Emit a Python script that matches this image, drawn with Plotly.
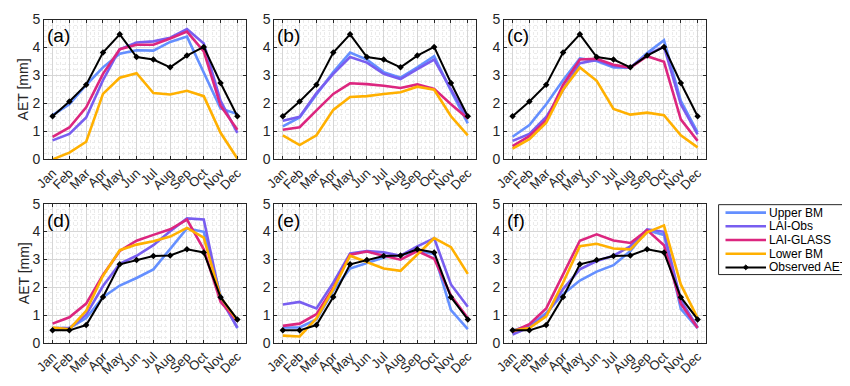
import plotly.graph_objects as go

# the page body has an 8px margin, so the figure is drawn 8px smaller and
# all pixel positions below are given in window pixels and shifted by OFF
OFF = 8
W, H = 850 - OFF, 386 - OFF

months = ["Jan", "Feb", "Mar", "Apr", "May", "Jun", "Jul", "Aug", "Sep", "Oct", "Nov", "Dec"]
month_num = list(range(1, 13))

series_names = ["Upper BM", "LAI-Obs", "LAI-GLASS", "Lower BM", "Observed AET"]
colors = ["#648FFF", "#785EF0", "#DC267F", "#FFB000", "#000000"]

# observed AET (same station for top row, same for bottom row)
obs_top = [1.54, 2.07, 2.67, 3.82, 4.47, 3.66, 3.57, 3.29, 3.71, 4.02, 2.73, 1.54]
obs_bot = [0.45, 0.45, 0.64, 1.65, 2.82, 2.98, 3.12, 3.14, 3.36, 3.25, 1.64, 0.84]

# panel (a)
a_upper = [1.58, 1.97, 2.66, 3.29, 3.78, 3.90, 3.89, 4.20, 4.39, 3.10, 1.82, 1.62]
a_obs = [0.68, 0.91, 1.50, 2.83, 3.94, 4.18, 4.22, 4.35, 4.66, 4.14, 2.09, 0.95]
a_glass = [0.80, 1.14, 1.86, 3.06, 3.94, 4.10, 4.10, 4.32, 4.57, 3.86, 1.92, 1.06]
a_lower = [0.00, 0.24, 0.63, 2.34, 2.92, 3.08, 2.37, 2.32, 2.45, 2.26, 0.95, 0.03]

# panel (b)
b_upper = [1.18, 1.50, 2.32, 3.12, 3.82, 3.57, 3.12, 2.92, 3.29, 3.69, 2.45, 1.29]
b_obs = [1.38, 1.52, 2.37, 3.06, 3.66, 3.46, 3.06, 2.87, 3.23, 3.57, 2.50, 1.46]
b_glass = [1.06, 1.15, 1.75, 2.34, 2.72, 2.69, 2.63, 2.55, 2.68, 2.52, 1.97, 1.46]
b_lower = [0.86, 0.51, 0.86, 1.77, 2.23, 2.26, 2.34, 2.40, 2.60, 2.49, 1.54, 0.86]

# panel (c)
c_upper = [0.81, 1.23, 1.97, 2.83, 3.61, 3.52, 3.29, 3.28, 3.80, 4.26, 2.09, 0.97]
c_obs = [0.66, 0.91, 1.52, 2.49, 3.44, 3.55, 3.34, 3.28, 3.74, 4.03, 1.97, 0.89]
c_glass = [0.47, 0.83, 1.40, 2.66, 3.57, 3.60, 3.38, 3.28, 3.69, 3.49, 1.43, 0.66]
c_lower = [0.38, 0.72, 1.31, 2.49, 3.29, 2.81, 1.80, 1.60, 1.67, 1.58, 0.86, 0.43]

# panel (d)
d_upper = [0.49, 0.53, 0.89, 1.64, 2.06, 2.33, 2.64, 3.36, 4.11, 3.99, 1.70, 0.53]
d_obs = [0.53, 0.53, 1.01, 2.04, 2.84, 3.13, 3.51, 4.01, 4.47, 4.43, 1.58, 0.55]
d_glass = [0.69, 0.92, 1.41, 2.44, 3.30, 3.67, 3.88, 4.08, 4.43, 3.36, 1.47, 0.78]
d_lower = [0.55, 0.49, 1.15, 2.41, 3.33, 3.53, 3.65, 3.82, 4.13, 3.78, 1.64, 0.80]

# panel (e)
e_upper = [0.55, 0.55, 0.84, 1.87, 2.67, 2.87, 3.07, 3.15, 3.30, 3.19, 1.18, 0.49]
e_obs = [1.38, 1.47, 1.24, 2.16, 3.21, 3.30, 3.25, 3.13, 3.47, 3.76, 2.10, 1.30]
e_glass = [0.61, 0.69, 1.03, 1.98, 3.17, 3.28, 3.13, 2.99, 3.30, 3.02, 1.70, 0.89]
e_lower = [0.26, 0.23, 0.88, 1.93, 3.13, 2.90, 2.67, 2.59, 3.19, 3.76, 3.44, 2.48]

# panel (f)
f_upper = [0.44, 0.61, 1.07, 1.75, 2.24, 2.56, 2.79, 3.30, 4.05, 3.88, 1.22, 0.53]
f_obs = [0.30, 0.57, 0.99, 1.93, 2.64, 2.94, 3.13, 3.47, 4.08, 3.99, 1.53, 0.55]
f_glass = [0.40, 0.67, 1.24, 2.44, 3.67, 3.90, 3.68, 3.59, 4.05, 3.51, 1.41, 0.53]
f_lower = [0.44, 0.53, 0.95, 2.16, 3.47, 3.56, 3.39, 3.36, 3.97, 4.22, 2.10, 0.89]

panels = [
    ("(a)", [a_upper, a_obs, a_glass, a_lower, obs_top]),
    ("(b)", [b_upper, b_obs, b_glass, b_lower, obs_top]),
    ("(c)", [c_upper, c_obs, c_glass, c_lower, obs_top]),
    ("(d)", [d_upper, d_obs, d_glass, d_lower, obs_bot]),
    ("(e)", [e_upper, e_obs, e_glass, e_lower, obs_bot]),
    ("(f)", [f_upper, f_obs, f_glass, f_lower, obs_bot]),
]

# window-pixel boxes of the axes (left, right) and (top, bottom)
col_px = [(34.5, 238.5), (267.5, 471.7), (500.0, 704.3)]
row_px = [(11.7, 157.7), (204.0, 349.3)]


def px(x):
    return (x - OFF) / W


def py(y):
    return 1 - (y - OFF) / H


FONT = "Liberation Sans, Arial, sans-serif"
AX_COL = "#262626"

fig = go.Figure()
layout = dict(
    width=W, height=H,
    margin=dict(l=0, r=0, t=0, b=0),
    paper_bgcolor="white", plot_bgcolor="white",
    font=dict(family=FONT, size=12, color=AX_COL),
    showlegend=False,
    annotations=[], shapes=[],
)

for i, (label, data) in enumerate(panels):
    r, c = divmod(i, 3)
    n = i + 1
    xa = "x" if n == 1 else "x%d" % n
    ya = "y" if n == 1 else "y%d" % n
    for k, vals in enumerate(data):
        obs = k == 4
        fig.add_trace(go.Scatter(
            x=month_num, y=vals, xaxis=xa, yaxis=ya,
            mode="lines+markers" if obs else "lines",
            name=series_names[k],
            line=dict(color=colors[k], width=2 if obs else 2.6),
            marker=dict(symbol="diamond", size=5, color="black") if obs else None,
        ))
    x0, x1 = col_px[c]
    t0, t1 = row_px[r]
    grid = dict(showgrid=True, gridcolor="#d6d6d6", gridwidth=1)
    layout["xaxis" if n == 1 else "xaxis%d" % n] = dict(
        domain=[px(x0), px(x1)], anchor=ya, range=[0.5, 12.5],
        tickmode="array", tickvals=month_num, ticktext=months, tickangle=-45,
        tickfont=dict(size=13), ticks="inside", ticklen=3, tickcolor=AX_COL,
        showline=True, linecolor=AX_COL, linewidth=1, mirror="ticks",
        zeroline=False, **grid,
        minor=dict(dtick=0.25, tick0=0.5, showgrid=True, gridcolor="#ebebeb", griddash="dot", ticks=""),
    )
    layout["yaxis" if n == 1 else "yaxis%d" % n] = dict(
        domain=[py(t1), py(t0)], anchor=xa, range=[0, 5],
        tickvals=[0, 1, 2, 3, 4, 5], tickfont=dict(size=14),
        ticks="inside", ticklen=3, tickcolor=AX_COL,
        showline=True, linecolor=AX_COL, linewidth=1, mirror="ticks",
        zeroline=False, **grid,
        minor=dict(dtick=0.2, showgrid=True, gridcolor="#ebebeb", griddash="dot", ticks=""),
    )
    layout["annotations"].append(dict(
        text=label, xref="paper", yref="paper",
        x=px(x0 + 1), y=py(t0 + 4), xanchor="left", yanchor="top",
        showarrow=False, font=dict(size=19, color="black", family=FONT),
    ))
    if c == 0:
        layout["annotations"].append(dict(
            text="AET [mm]", xref="paper", yref="paper",
            x=px(14), y=py((t0 + t1) / 2), textangle=-90,
            xanchor="center", yanchor="middle", showarrow=False,
            font=dict(size=14, color=AX_COL, family=FONT),
        ))

# legend box drawn by hand so the row spacing matches the original
lx0, lx1, ly0, ly1 = 717, 845, 205, 278
layout["shapes"].append(dict(
    type="rect", xref="paper", yref="paper",
    x0=px(lx0), x1=px(lx1), y0=py(ly1), y1=py(ly0),
    line=dict(color="#262626", width=1), fillcolor="white",
))
row_y = [213.3, 227.6, 241.9, 256.2, 270.5]
for k, name in enumerate(series_names):
    yy = py(row_y[k])
    layout["shapes"].append(dict(
        type="line", xref="paper", yref="paper",
        x0=px(724), x1=px(765), y0=yy, y1=yy,
        line=dict(color=colors[k], width=2 if k == 4 else 2.6),
    ))
    layout["annotations"].append(dict(
        text=name, xref="paper", yref="paper", x=px(766), y=yy,
        xanchor="left", yanchor="middle", showarrow=False,
        font=dict(size=12, color="black", family=FONT),
    ))
mx, my, d = 744.5, row_y[4], 2.5
layout["shapes"].append(dict(
    type="path", xref="paper", yref="paper",
    path="M {:.5f},{:.5f} L {:.5f},{:.5f} L {:.5f},{:.5f} L {:.5f},{:.5f} Z".format(
        px(mx - d), py(my), px(mx), py(my - d),
        px(mx + d), py(my), px(mx), py(my + d)),
    fillcolor="black", line=dict(color="black", width=1),
))

fig.update_layout(**layout)
fig.write_html("out.html")
